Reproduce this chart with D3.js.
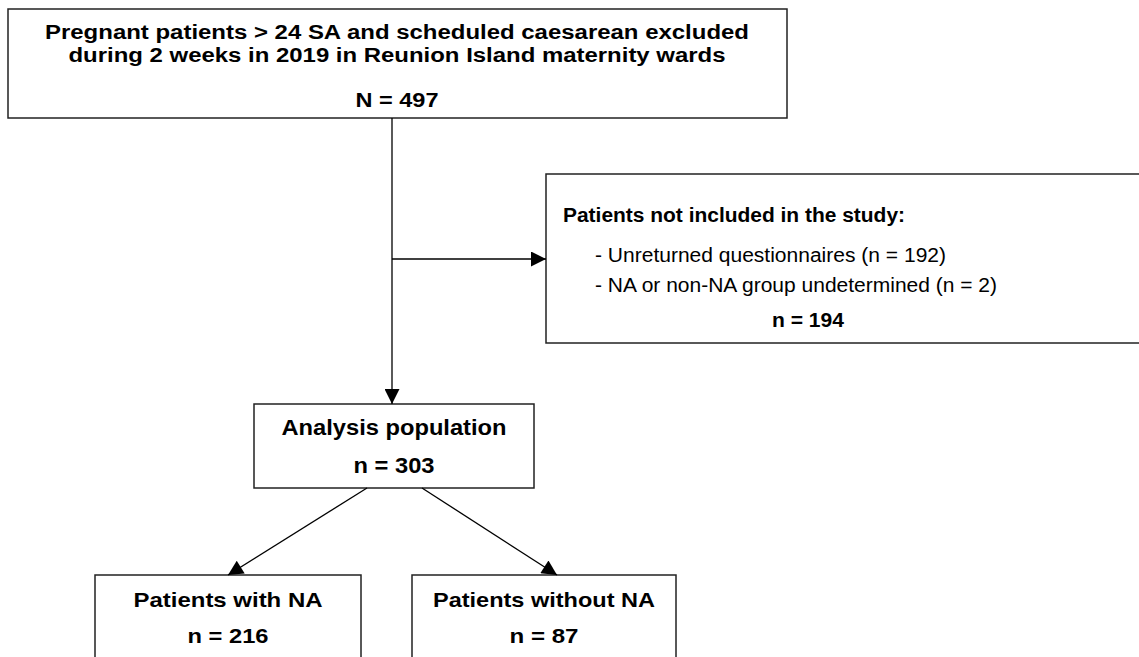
<!DOCTYPE html>
<html>
<head>
<meta charset="utf-8">
<script src="https://cdn.jsdelivr.net/npm/d3@7"></script>
<style>
  body { margin: 0; background: #fff; }
  svg text { font-family: "Liberation Sans", Arial, sans-serif; fill: #000; }
</style>
</head>
<body>
<div class="container"></div>
<script>
// flowchart content
const boxTitles = [
  ['Pregnant patients > 24 SA and scheduled caesarean excluded', 'during 2 weeks in 2019 in Reunion Island maternity wards'],
  ['Patients not included in the study:'],
  ['Analysis population'],
  ['Patients with NA'],
  ['Patients without NA']
];
const boxCounts = ['N = 497', 'n = 194', 'n = 303', 'n = 216', 'n = 87'];
const exclusionItems = ['- Unreturned questionnaires (n = 192)', '- NA or non-NA group undetermined (n = 2)'];

// layout (pixels), widths
const boxes = [
  {x0: 8, x1: 787, y0: 9, y1: 118, cx: 397, fs: 19.5, lines: [39, 62], widths: [704, 657], countY: 107, countW: 83},
  {x0: 546, x1: 1150, y0: 174, y1: 343, cx: 808, fs: 19.5, lines: [222], widths: [342], countY: 327, countW: 72, align: 'start', tx: 563},
  {x0: 254, x1: 534, y0: 404, y1: 488, cx: 394, fs: 21.5, lines: [435], widths: [225], countY: 473, countW: 81},
  {x0: 95, x1: 361, y0: 575, y1: 700, cx: 228, fs: 20.5, lines: [607], widths: [189], countY: 643, countW: 81},
  {x0: 412, x1: 676, y0: 575, y1: 700, cx: 544, fs: 20.5, lines: [607], widths: [222], countY: 643, countW: 69}
];
const itemWidths = [351, 402];

var display = function () {
  var svg = d3.select('.container').append('svg')
    .attr('width', 1139)
    .attr('height', 657);

  svg.append('defs').append('marker')
    .attr('id', 'arrow')
    .attr('viewBox', '0 0 10 10')
    .attr('refX', 10)
    .attr('refY', 5)
    .attr('markerUnits', 'userSpaceOnUse')
    .attr('markerWidth', 17)
    .attr('markerHeight', 15)
    .attr('orient', 'auto')
    .append('path')
    .attr('d', 'M0,0 L10,5 L0,10 Z')
    .attr('fill', '#000');

  drawBoxes(svg);
  drawArrows(svg);
};

var drawBoxes = function (svg) {
  var g = svg.selectAll('g.box')
    .data(boxes)
    .enter().append('g')
    .attr('class', 'box');

  g.append('rect')
    .attr('x', d => d.x0)
    .attr('y', d => d.y0)
    .attr('width', d => d.x1 - d.x0)
    .attr('height', d => d.y1 - d.y0)
    .attr('fill', '#fff')
    .attr('stroke', '#222')
    .attr('stroke-width', 1.5);

  g.each(function (d, i) {
    var box = d3.select(this);
    boxTitles[i].forEach(function (t, j) {
      box.append('text')
        .attr('x', d.align === 'start' ? d.tx : d.cx)
        .attr('y', d.lines[j])
        .attr('text-anchor', d.align === 'start' ? 'start' : 'middle')
        .attr('font-size', d.fs)
        .attr('font-weight', 'bold')
        .attr('textLength', d.widths[j])
        .attr('lengthAdjust', 'spacingAndGlyphs')
        .text(t);
    });
    box.append('text')
      .attr('x', d.cx)
      .attr('y', d.countY)
      .attr('text-anchor', 'middle')
      .attr('font-size', d.fs)
      .attr('font-weight', 'bold')
      .attr('textLength', d.countW)
      .attr('lengthAdjust', 'spacingAndGlyphs')
      .text(boxCounts[i]);
  });

  // exclusion list
  svg.selectAll('text.item')
    .data(exclusionItems)
    .enter().append('text')
    .attr('class', 'item')
    .attr('x', 595)
    .attr('y', (d, i) => 262 + i * 30)
    .attr('font-size', 19.5)
    .attr('textLength', (d, i) => itemWidths[i])
    .attr('lengthAdjust', 'spacingAndGlyphs')
    .text(d => d);
};

var drawArrows = function (svg) {
  var line = function (x1, y1, x2, y2) {
    svg.append('line')
      .attr('x1', x1).attr('y1', y1)
      .attr('x2', x2).attr('y2', y2)
      .attr('stroke', '#000')
      .attr('stroke-width', 1.3)
      .attr('marker-end', 'url(#arrow)');
  };
  line(392, 118, 392, 404);
  line(392, 259, 546, 259);
  line(367, 488, 228, 575);
  line(422, 488, 557, 575);
};

window.onload = display;
</script>
</body>
</html>
